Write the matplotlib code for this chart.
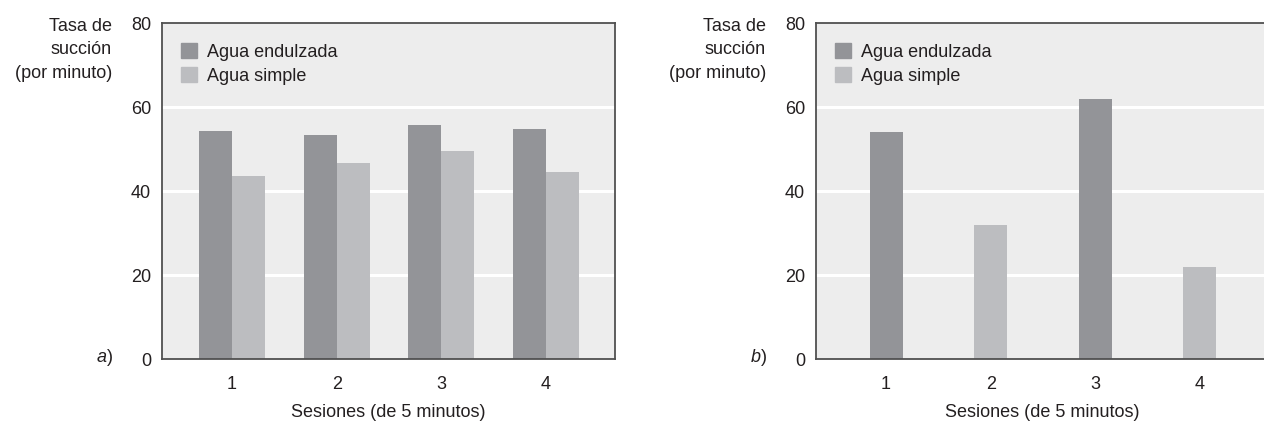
import matplotlib
matplotlib.use("Agg")
import matplotlib.pyplot as plt
import matplotlib.patches as mpatches
import numpy as np

# ============================
# DATA
# ============================
sessions = [1, 2, 3, 4]
a_dulce = [54.3, 53.3, 55.7, 54.8]
a_simple = [43.6, 46.7, 49.5, 44.5]

# panel b: alternating sessions
b_dulce = [54, 0, 62, 0]
b_simple = [0, 32, 0, 22]

y_ticks = [0, 20, 40, 60, 80]
series_names = ["Agua endulzada", "Agua simple"]
x_label = "Sesiones (de 5 minutos)"
y_label = "Tasa de\nsucción\n(por minuto)"

# ============================
# STYLE
# ============================
DARK = "#939498"
LIGHT = "#BCBDC0"
BG = "#EDEDED"
SPINE = "#505050"
TXT = "#231F20"
FS = 13

plt.rcParams["font.family"] = ["Liberation Sans", "DejaVu Sans"]

W, H = 1264, 422
fig = plt.figure(figsize=(W / 100, H / 100), dpi=100)


def style_axes(ax, letter):
    ax.set_facecolor(BG)
    ax.set_xlim(0.33, 4.66)
    ax.set_ylim(0, 80)
    ax.set_yticks(y_ticks)
    ax.set_xticks(sessions)
    ax.tick_params(axis="y", length=0, labelsize=FS, colors=TXT, pad=8)
    ax.tick_params(axis="x", length=0, labelsize=FS, colors=TXT, pad=12)
    for s in ax.spines.values():
        s.set_color(SPINE)
        s.set_linewidth(1.3)
    for v in y_ticks[1:-1]:
        ax.axhline(v, color="white", lw=2.2, zorder=1)
    ax.set_xlabel(x_label, fontsize=FS, color=TXT, labelpad=8)
    ax.text(-50 / 453, 1 + 5 / 336, y_label, transform=ax.transAxes,
            ha="right", va="top", fontsize=FS, color=TXT, linespacing=1.5)
    ax.text(-55 / 453, 0.005, letter, transform=ax.transAxes, ha="right",
            va="center", fontsize=FS, color=TXT, style="italic")
    ax.text(-55 / 453, 0.005, ")", transform=ax.transAxes, ha="left",
            va="center", fontsize=FS, color=TXT)
    handles = [mpatches.Patch(color=DARK), mpatches.Patch(color=LIGHT)]
    ax.legend(handles, series_names, loc="upper left",
              bbox_to_anchor=(19 / 453, 1 - 20 / 336), borderaxespad=0,
              frameon=False, fontsize=FS, handlelength=0.88,
              handleheight=0.88, handletextpad=0.55, labelspacing=0.38,
              labelcolor=TXT, borderpad=0)


# left panel
ax1 = fig.add_axes([162 / W, 63 / H, 453 / W, 336 / H])
x = np.array(sessions)
bw = 0.315
ax1.bar(x - bw / 2, a_dulce, bw, color=DARK, zorder=2)
ax1.bar(x + bw / 2, a_simple, bw, color=LIGHT, zorder=2)
style_axes(ax1, "a")

# right panel (cut at the figure edge)
ax2 = fig.add_axes([816 / W, 63 / H, 453 / W, 336 / H])
colors_b = [DARK if d > 0 else LIGHT for d in b_dulce]
vals_b = [d if d > 0 else s for d, s in zip(b_dulce, b_simple)]
ax2.bar(x, vals_b, bw, color=colors_b, zorder=2)
style_axes(ax2, "b")

fig.savefig("out.png", dpi=100)
